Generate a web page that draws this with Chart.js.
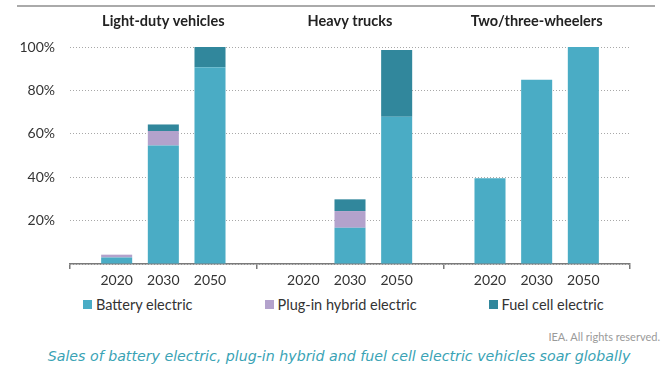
<!DOCTYPE html>
<html lang="en">
<head>
    <meta charset="UTF-8">
    <title>EV sales shares</title>
    <script src="https://cdn.jsdelivr.net/npm/chart.js"></script>
    <style>
        body { margin: 0; background: #fff; font-family: Lato, "Open Sans", sans-serif; }
        .frame { position: relative; width: 664px; height: 368px; overflow: hidden; }
        .top-rule { position: absolute; left: 17px; top: 5px; width: 638px; height: 2px; background: #aaaaaa; }
        .chart-box { position: absolute; left: 0; top: 0; width: 664px; height: 294px; }
        .legend { position: absolute; left: 83px; top: 296px; display: flex; gap: 72px; font-size: 14.5px; color: #333; }
        .legend span.item { display: flex; align-items: center; }
        .legend i { display: inline-block; width: 9px; height: 9px; margin-right: 4px; }
        .credit { position: absolute; right: 4px; top: 330px; font-size: 11px; color: #9a9a9a; }
        .caption { position: absolute; left: 14px; width: 650px; top: 348px; text-align: center;
                   font-family: "DejaVu Sans", sans-serif; font-style: italic; font-size: 14.2px; color: #3aa3b5; }
    </style>
</head>
<body>
    <div class="frame">
        <div class="top-rule"></div>
        <div class="chart-box"><canvas id="evChart"></canvas></div>
        <div class="legend" id="legend"></div>
        <div class="credit">IEA. All rights reserved.</div>
        <div class="caption">Sales of battery electric, plug-in hybrid and fuel cell electric vehicles soar globally</div>
    </div>

    <script>
        // 4 slots per group, empty slot at each group boundary
        const categories = ['', '2020', '2030', '2050', '', '2020', '2030', '2050', '', '2020', '2030', '2050', ''];
        const groupTitles = ['Light-duty vehicles', 'Heavy trucks', 'Two/three-wheelers'];
        const groupCentres = [2, 6, 10];
        const yTicks = [0, 20, 40, 60, 80, 100];

        const seriesNames = ['Battery electric', 'Plug-in hybrid electric', 'Fuel cell electric'];
        const batteryElectric = [null, 3, 54.6, 90.7, null, 0, 16.7, 67.8, null, 39.5, 84.9, 100, null];
        const plugInHybrid = [null, 1.3, 6.7, 0, null, 0, 7.7, 0, null, 0, 0, 0, null];
        const fuelCell = [null, 0, 3, 9.3, null, 0, 5.4, 30.8, null, 0, 0, 0, null];
        const seriesColours = ['#4aacc5', '#b3a2cc', '#31879c'];

        // group titles above the plot
        const groupTitlePlugin = {
            id: 'groupTitles',
            afterDraw(chart) {
                const ctx = chart.ctx;
                const x = chart.scales.x;
                ctx.save();
                ctx.font = 'bold 14.5px Lato, sans-serif';
                ctx.fillStyle = '#222';
                ctx.textAlign = 'center';
                ctx.textBaseline = 'middle';
                groupTitles.forEach((t, i) => {
                    ctx.fillText(t, x.getPixelForValue(groupCentres[i]), 21);
                });
                ctx.restore();
            }
        };

        function buildLegend() {
            const box = document.getElementById('legend');
            seriesNames.forEach((name, i) => {
                const item = document.createElement('span');
                item.className = 'item';
                item.innerHTML = `<i style="background:${seriesColours[i]}"></i>${name}`;
                box.appendChild(item);
            });
        }

        function createChart() {
            const ctx = document.getElementById('evChart').getContext('2d');
            const values = [batteryElectric, plugInHybrid, fuelCell];

            new Chart(ctx, {
                type: 'bar',
                data: {
                    labels: categories,
                    datasets: seriesNames.map((name, i) => ({
                        label: name,
                        data: values[i],
                        backgroundColor: seriesColours[i],
                        borderWidth: 0,
                        barPercentage: 0.665,
                        categoryPercentage: 1
                    }))
                },
                options: {
                    responsive: true,
                    maintainAspectRatio: false,
                    animation: false,
                    layout: { padding: { left: 0, right: 34, top: 47, bottom: 0 } },
                    plugins: {
                        legend: { display: false },
                        tooltip: { enabled: false }
                    },
                    scales: {
                        x: {
                            stacked: true,
                            offset: false,
                            afterFit: (scale) => { scale.height = 30; },
                            grid: {
                                offset: false,
                                drawOnChartArea: false,
                                drawTicks: true,
                                tickLength: 5,
                                color: (c) => (c.index % 4 === 0 ? '#7a7a7a' : 'rgba(0,0,0,0)'),
                                lineWidth: 1.5
                            },
                            border: { color: '#7a7a7a', width: 1.5 },
                            ticks: {
                                autoSkip: false,
                                maxRotation: 0,
                                padding: 3,
                                color: '#333',
                                font: { family: 'Lato', size: 14 }
                            }
                        },
                        y: {
                            stacked: true,
                            min: 0,
                            max: 100,
                            afterFit: (scale) => { scale.width = 70; },
                            afterBuildTicks: (scale) => { scale.ticks = yTicks.map(v => ({ value: v })); },
                            grid: {
                                drawTicks: false,
                                color: '#a8a8a8',
                                lineWidth: 1
                            },
                            border: { display: false, dash: [1, 2] },
                            ticks: {
                                padding: 15,
                                color: '#333',
                                font: { family: 'Lato', size: 14 },
                                callback: (v) => (v === 0 ? '' : v + '%')
                            }
                        }
                    }
                },
                plugins: [groupTitlePlugin]
            });
        }

        document.addEventListener('DOMContentLoaded', () => {
            buildLegend();
            createChart();
        });
    </script>
</body>
</html>
